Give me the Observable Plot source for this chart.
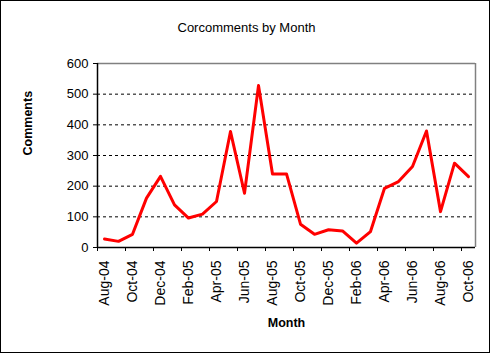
<!DOCTYPE html>
<html>
<head>
<meta charset="utf-8">
<script src="https://cdn.jsdelivr.net/npm/d3@7"></script>
<script src="https://cdn.jsdelivr.net/npm/@observablehq/plot@0.6"></script>
<style>
  html, body { margin: 0; padding: 0; background: #fff; }
  #chart { width: 490px; height: 353px; box-sizing: border-box; border: 1px solid #000; overflow: hidden; background: #fff; }
  #chart svg { display: block; }
</style>
</head>
<body>
<div id="chart"></div>
<script>
const title = "Corcomments by Month";
const xTitle = "Month";
const yTitle = "Comments";
const months = ["Aug-04","Sep-04","Oct-04","Nov-04","Dec-04","Jan-05","Feb-05","Mar-05","Apr-05","May-05","Jun-05","Jul-05","Aug-05","Sep-05","Oct-05","Nov-05","Dec-05","Jan-06","Feb-06","Mar-06","Apr-06","May-06","Jun-06","Jul-06","Aug-06","Sep-06","Oct-06"];
const comments = [28,20,43,161,232,139,96,109,150,378,177,528,240,240,76,43,58,54,14,52,193,215,264,380,117,275,231];
const yTicks = [0,100,200,300,400,500,600];

const idx = months.map((_, i) => i);
const labelIdx = idx.filter(i => i % 2 === 0);
const boundaries = d3.range(-0.5, months.length - 1, 2);
const n = months.length;

const font = "'Liberation Sans', Arial, sans-serif";

const chart = Plot.plot({
  width: 488,
  height: 351,
  marginLeft: 96,
  marginRight: 14,
  marginTop: 62,
  marginBottom: 105,
  style: { fontFamily: font, fontSize: "12px", background: "#fff", color: "#000" },
  x: { type: "linear", domain: [-0.5, n - 0.5], axis: null },
  y: { domain: [0, 600], axis: null },
  marks: [
    Plot.ruleY(yTicks.filter(v => v > 0 && v < 600), { stroke: "#000", strokeWidth: 1, strokeDasharray: "3,3" }),
    Plot.ruleY([600], { stroke: "#808080", strokeWidth: 1.5 }),
    Plot.ruleX([n - 0.5], { stroke: "#808080", strokeWidth: 1.5 }),
    Plot.ruleX([-0.5], { stroke: "#000", strokeWidth: 1.5 }),
    Plot.ruleY([0], { stroke: "#000", strokeWidth: 1.5 }),
    Plot.axisY({ ticks: yTicks, tickSize: 4, tickPadding: 5, tickFormat: d => String(d), fontSize: 13 }),
    Plot.axisX({ ticks: boundaries, tickSize: 4, tickFormat: () => "" }),
    Plot.text(labelIdx, { x: d => d, text: d => months[d], frameAnchor: "bottom", rotate: -90, textAnchor: "end", lineAnchor: "middle", dy: 13, fontSize: 14 }),
    Plot.lineY(comments, { x: (d, i) => i, y: d => d, stroke: "#ff0000", strokeWidth: 3, strokeLinejoin: "round" }),
    Plot.text([title], { text: d => d, frameAnchor: "top", dx: -40, dy: -41, fontSize: 13 }),
    Plot.text([yTitle], { text: d => d, frameAnchor: "left", dx: -70, rotate: -90, fontSize: 12.5, fontWeight: "bold" }),
    Plot.text([xTitle], { text: d => d, frameAnchor: "bottom", dy: 79, fontSize: 12.5, fontWeight: "bold" })
  ]
});
document.getElementById("chart").appendChild(chart);
</script>
</body>
</html>
